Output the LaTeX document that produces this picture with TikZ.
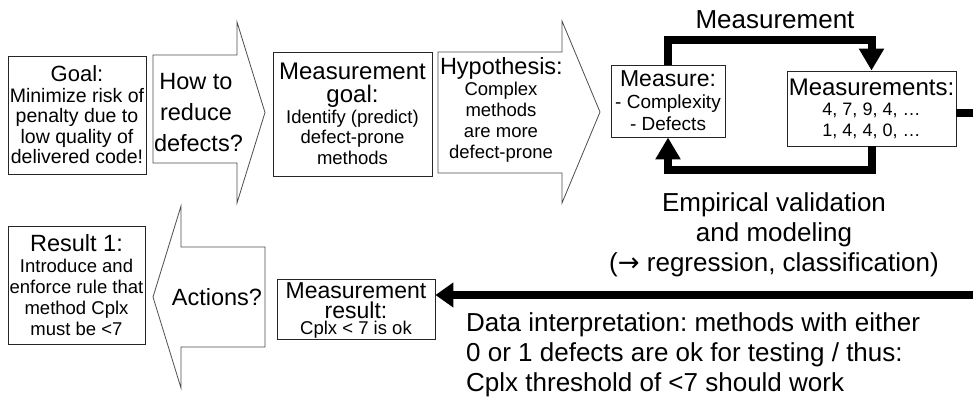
\documentclass[tikz,border=0pt]{standalone}
\usepackage{fontspec}
\setmainfont{Liberation Sans}
\newfontfamily\arrowfont{DejaVu Sans}
\usetikzlibrary{arrows.meta}

% one block of box text: size, line skip, lines (rigid natural word spaces)
\newcommand\btext[3]{{\fontsize{#1}{#2}\selectfont
  \spaceskip=\fontdimen2\font\relax\xspaceskip=\fontdimen2\font\relax #3\par}}

\begin{document}
\begin{tikzpicture}[x=1pt,y=-1pt,
  frame/.style 2 args={draw=black!85, line width=0.9pt, inner sep=0pt,
    minimum width=#1, minimum height=#2},
  txt/.style={align=center, inner sep=0pt, text width=#1},
  bigarrow/.style={draw=black!70, line width=0.8pt, line join=miter},
  flow/.style={line width=8pt, -{Triangle[length=22pt,width=24pt]}},
  longflow/.style={line width=8pt, -{Triangle[length=18pt,width=24pt]}},
  label/.style={inner sep=0pt, font=\fontsize{26}{30}\selectfont},
]
\useasboundingbox (0,0) rectangle (973,402);

% ---- upper row ----
\node[frame={138pt}{118pt}] (goal) at (77,115) {};
\node[txt=136pt] (goal-t) at (goal.center)
  {\btext{22}{23}{Goal:}\btext{19.5}{20.5}{Minimize risk of\\penalty due to\\low quality of\\delivered code!}};

\draw[bigarrow] (153,55) -- (237,55) -- (237,22) -- (265,112.5) -- (237,203)
  -- (237,163) -- (153,163) -- cycle;
\node[txt=84pt] (howto) at (196,113)
  {\btext{23.5}{31}{How to\\reduce\\defects?}};

\node[frame={159pt}{124pt}] (mgoal) at (352.5,114) {};
\node[txt=157pt] (mgoal-t) at (mgoal.center)
  {\btext{24}{23}{Measurement\\goal:}\btext{18.5}{20.5}{Identify (predict)\\defect-prone\\methods}};

\draw[bigarrow] (438,52) -- (562,52) -- (562,21) -- (600,112) -- (562,203)
  -- (562,173) -- (438,173) -- cycle;
\node[txt=122pt] (hyp) at (501,110)
  {\btext{23.5}{23}{Hypothesis:}\btext{18.5}{21}{Complex\\methods\\are more\\defect-prone}};

\node[frame={114pt}{72pt}] (measure) at (668,101) {};
\node[txt=112pt] (measure-t) at (measure.center)
  {\btext{23}{23}{Measure:}\btext{19}{22}{- Complexity\\- Defects}};

\node[frame={169pt}{75pt}] (values) at (871.5,108.5) {};
\node[txt=167pt] (values-t) at (values.center)
  {\btext{24}{23}{Measurements:}\btext{18}{20.5}{4, 7, 9, 4, …\\1, 4, 4, 0, …}};

% ---- measurement loop ----
\coordinate (loopTop) at (0,40);
\coordinate (loopBot) at (0,170);
\draw[flow] (measure.north) -- (measure.north |- loopTop) -| (values.north);
\draw[flow] (values.south) -- (values.south |- loopBot) -| (measure.south);
\node[label, anchor=base] (meas-lbl) at (775,28) {Measurement};

\coordinate (exitR) at (978,113);
\draw[line width=8pt] (values.east |- exitR) -- (exitR);

\node[txt=360pt, anchor=north] (emp) at (774,192)
  {\btext{26}{30}{Empirical validation\\and modeling\\({\arrowfont →} regression, classification)}};

% ---- lower row ----
\node[frame={137pt}{118pt}] (res1) at (76.5,285) {};
\node[txt=135pt] (res1-t) at (res1.center)
  {\btext{23.5}{23}{Result 1:}\btext{18.5}{21}{Introduce and\\enforce rule that\\method Cplx\\must be <7}};

\draw[bigarrow] (265,247) -- (181,247) -- (181,206) -- (153,297) -- (181,388)
  -- (181,347) -- (265,347) -- cycle;
\node[inner sep=0pt, font=\fontsize{23.5}{28}\selectfont] (actions) at (217,297) {Actions?};

\node[frame={158pt}{60pt}] (mres) at (356,309) {};
\node[txt=156pt, anchor=north] (mres-t) at ([yshift=-3.5pt]mres.north)
  {\btext{23}{20}{Measurement\\result:}\btext{18.5}{16}{Cplx < 7 is ok}};

\coordinate (entryR) at (978,295);
\draw[longflow] (entryR) -- (entryR -| mres.east);

\node[txt=500pt, align=left, anchor=north west] (interp) at (466,312)
  {\btext{26}{30}{Data interpretation: methods with either\\0 or 1 defects are ok for testing / thus:\\Cplx threshold of <7 should work}};
\end{tikzpicture}
\end{document}
